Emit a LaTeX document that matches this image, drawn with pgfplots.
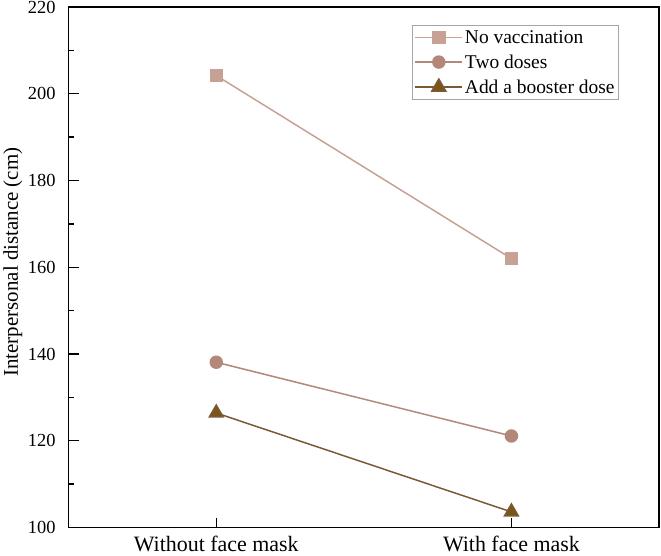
\documentclass[border=0pt]{standalone}
\usepackage{pgfplots}
\pgfplotsset{compat=1.18}
\usepackage{fontspec}
\setmainfont{Liberation Serif}
\usetikzlibrary{calc}
\definecolor{cnov}{HTML}{C6A194}
\definecolor{ctwo}{HTML}{B3877A}
\definecolor{cbst}{HTML}{7A5516}
\definecolor{cbstl}{HTML}{7A5A36}
\begin{document}
\begin{tikzpicture}
\begin{axis}[
  name=ax,
  scale only axis,
  width=592pt, height=522pt,
  xmin=-0.5, xmax=1.5,
  ymin=100, ymax=220,
  xtick={0,1},
  xticklabels={Without face mask, With face mask},
  ytick={100,120,140,160,180,200,220},
  minor ytick={110,130,150,170,190,210},
  tick align=inside,
  xtick pos=bottom, ytick pos=left,
  major tick length=10pt, minor tick length=5pt,
  every tick/.style={black, line width=1.4pt},
  axis line style={line width=1.5pt},
  /pgf/number format/assume math mode=true,
  yticklabel style={font=\fontsize{18.5}{20}\selectfont, inner sep=0pt, anchor=east, xshift=-13pt},
  xticklabel style={font=\fontsize{22}{24}\selectfont, inner sep=0pt, anchor=base, yshift=-24pt},
  ylabel={Interpersonal distance (cm)},
  every axis y label/.style={at={(axis description cs:0,0.51)}, anchor=center, rotate=90, yshift=56pt, font=\fontsize{21}{23}\selectfont},
  legend style={at={(0.932,0.9655)}, anchor=north east, draw=gray!70, line width=0.6pt, inner xsep=2pt, inner ysep=3pt,
    font=\fontsize{19.5}{25}\selectfont, row sep=6pt, cells={anchor=west}},
  legend cell align=left,
  legend image code/.code={\draw[mark repeat=2,mark phase=2] plot coordinates {(0pt,0pt) (23.5pt,0pt) (47pt,0pt)};},
]
\addplot[color=cnov, line width=1.5pt, mark=square*, mark size=6pt, mark options={fill=cnov, draw=none}] coordinates {(0,204.2) (1,162.0)};
\addlegendentry{No vaccination}
\addplot[color=ctwo, line width=1.5pt, mark=*, mark size=6pt, mark options={fill=ctwo, draw=none}] coordinates {(0,138.1) (1,121.1)};
\addlegendentry{Two doses}
\addplot[color=cbstl, line width=1.5pt, mark=triangle*, mark size=8pt, mark options={fill=cbst, draw=none}] coordinates {(0,126.4) (1,103.6)};
\addlegendentry{Add a booster dose}
\end{axis}
\path[use as bounding box] ($(ax.south west)+(-67pt,-28pt)$) rectangle ($(ax.north east)+(2pt,7pt)$);
\end{tikzpicture}
\end{document}
